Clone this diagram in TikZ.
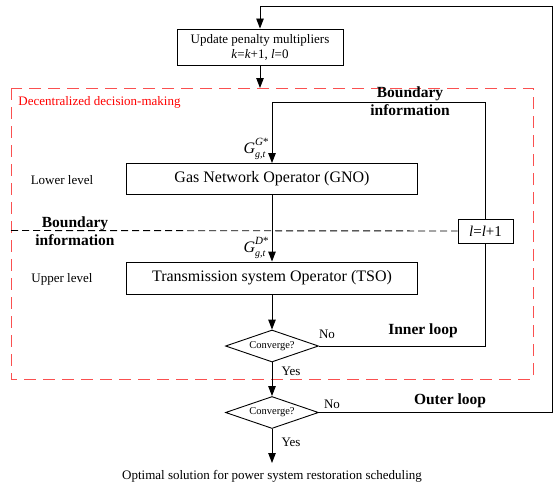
\documentclass[tikz,border=0pt]{standalone}
\usepackage{fontspec}
\setmainfont{Liberation Serif}
\usetikzlibrary{arrows.meta,shapes.geometric}
\definecolor{dashred}{RGB}{250,80,80}
\newcommand{\gsym}[1]{\textit{G}\rlap{\raisebox{1.05ex}{\fontsize{11}{11}\selectfont\textit{#1}*}}\raisebox{-0.6ex}{\fontsize{10}{10}\selectfont\textit{g,t}}}
\begin{document}
\begin{tikzpicture}[x=1pt,y=-1pt,
  line width=0.9pt,
  arr/.style={-{Triangle[length=10pt,width=7.5pt]}},
  box/.style={draw,rectangle,inner sep=0pt,align=center},
  dec/.style={draw,diamond,shape aspect=3,inner sep=0pt,minimum width=93pt,minimum height=32pt,font=\fontsize{10.5}{12}\selectfont},
  lbl/.style={inner sep=0pt,font=\fontsize{13}{15}\selectfont},
  bold/.style={inner sep=0pt,align=center,font=\fontsize{15.5}{18.5}\selectfont\bfseries},
  sym/.style={inner sep=0pt,anchor=east,font=\fontsize{16}{18}\selectfont}
]
\useasboundingbox (0,0) rectangle (553,487);

% decentralized region
\draw[dashred,line width=1pt,dash pattern=on 12pt off 7pt] (11,88) rectangle (533,379);
\node[anchor=west,inner sep=0pt,text=red,font=\fontsize{13}{15}\selectfont] (dec) at (18,102) {Decentralized decision-making};

% boxes
\node[box,minimum width=166pt,minimum height=36pt,font=\fontsize{13}{15}\selectfont] (upd) at (260,47) {Update penalty multipliers\\\textit{k}=\textit{k}+1, \textit{l}=0};
\node[box,minimum width=291pt,minimum height=31pt,font=\fontsize{16}{18}\selectfont] (gno) at (272,179) {Gas Network Operator (GNO)};
\node[box,minimum width=291pt,minimum height=32pt,font=\fontsize{16}{18}\selectfont] (tso) at (272,278) {Transmission system Operator (TSO)};
\node[dec] (d1) at (272,346) {Converge?};
\node[dec] (d2) at (272,412.5) {Converge?};

% coordinates
\coordinate (top) at (260,6);
\coordinate (topr) at (552,6);
\coordinate (outr) at (552,412.5);
\coordinate (inr) at (485.5,346);
\coordinate (bndr) at (485.5,102);
\coordinate (bndl) at (272,102);
\coordinate (updend) at (260,88);
\coordinate (dashl) at (11,230.5);
\coordinate (outend) at (272,463);

% inner loop line and l box
\draw (d1.east) -- (inr) -- (bndr) -- (bndl);
\draw[arr] (bndl) -- (gno.north);
\node[box,fill=white,minimum width=55pt,minimum height=24pt,font=\fontsize{15}{17}\selectfont] (lbox) at (485.5,231) {\textit{l}=\textit{l}+1};
\draw[dash pattern=on 7pt off 4pt] (dashl) -- (lbox.west);

% outer loop
\draw[arr] (d2.east) -- (outr) -- (topr) -- (top) -- (upd.north);
\draw[arr] (upd.south) -- (updend);

% main flow
\draw[arr] (gno.south) -- (tso.north);
\draw[arr] (tso.south) -- (d1.north);
\draw[arr] (d1.south) -- (d2.north);
\draw[arr] (d2.south) -- (outend);

% labels
\node[lbl] (opt) at (272,476) {Optimal solution for power system restoration scheduling};
\node[lbl] (low) at (62,180) {Lower level};
\node[lbl] (up) at (62,279) {Upper level};
\node[lbl] (no1) at (327,334) {No};
\node[lbl] (yes1) at (291,371) {Yes};
\node[lbl] (no2) at (332,404) {No};
\node[lbl] (yes2) at (291,442) {Yes};
\node[bold] (b1) at (410,101) {Boundary\\information};
\node[bold] (b2) at (75,231) {Boundary\\information};
\node[bold] (il) at (423,331) {Inner loop};
\node[bold] (ol) at (450,401) {Outer loop};
\node[sym] (gg) at (266,149) {\gsym{G}};
\node[sym] (gd) at (266,248) {\gsym{D}};
\end{tikzpicture}
\end{document}
